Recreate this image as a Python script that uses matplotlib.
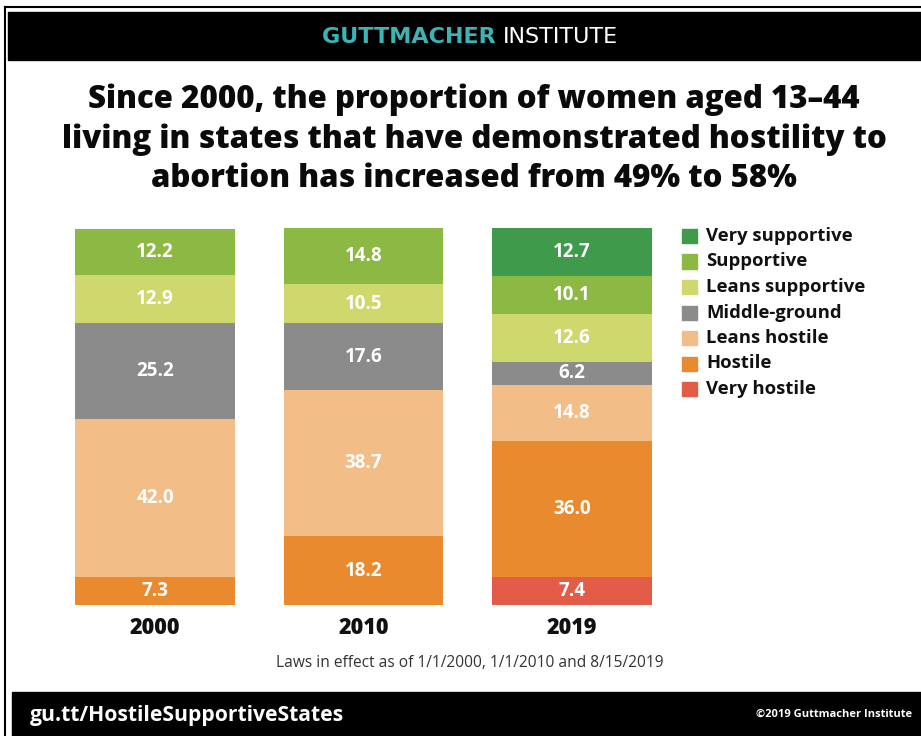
import numpy as np
import matplotlib.pyplot as plt
from matplotlib.patches import Rectangle

years = ["2000", "2010", "2019"]
categories = ["Very hostile", "Hostile", "Leans hostile", "Middle-ground",
              "Leans supportive", "Supportive", "Very supportive"]
# values by category (bottom to top), one entry per year
very_hostile = [0.0, 0.0, 7.4]
hostile = [7.3, 18.2, 36.0]
leans_hostile = [42.0, 38.7, 14.8]
middle_ground = [25.2, 17.6, 6.2]
leans_supportive = [12.9, 10.5, 12.6]
supportive = [12.2, 14.8, 10.1]
very_supportive = [0.0, 0.0, 12.7]

colors = {
    "Very supportive": "#3f9a4c",
    "Supportive": "#8cb944",
    "Leans supportive": "#cfd86d",
    "Middle-ground": "#8b8b8b",
    "Leans hostile": "#f3bd88",
    "Hostile": "#ea8a2f",
    "Very hostile": "#e25c48",
}

series = [very_hostile, hostile, leans_hostile, middle_ground,
          leans_supportive, supportive, very_supportive]

W, H = 921, 736
fig = plt.figure(figsize=(W / 100, H / 100), dpi=100)
fig.patch.set_facecolor("white")

FONT = "Open Sans"


def px(x, y):
    return x / W, 1 - y / H


# frame and bands
fig.add_artist(plt.Line2D([5 / W, 5 / W], [0, 1 - 7 / H], color="black", lw=1.5))
fig.add_artist(plt.Line2D([5 / W, 1], [1 - 7 / H, 1 - 7 / H], color="black", lw=1.5))
fig.add_artist(Rectangle(px(8, 60), (W - 8) / W, 48 / H, color="black"))
fig.add_artist(Rectangle(px(12, 736), (W - 12) / W, 44 / H, color="black"))

# header
t1 = fig.text(0, 0, "GUTTMACHER ", color="#3cb4b6", fontsize=16, fontweight="bold",
              family="DejaVu Sans", va="center")
fig.canvas.draw()
r = fig.canvas.get_renderer()
w1 = t1.get_window_extent(r).width
t2 = fig.text(0, 0, "INSTITUTE", color="white", fontsize=16, family="DejaVu Sans",
              va="center")
w2 = t2.get_window_extent(r).width
x0 = 470 - (w1 + w2) / 2
t1.set_position(px(x0, 37))
t2.set_position(px(x0 + w1, 37))

title = ("Since 2000, the proportion of women aged 13\u201344\n"
         "living in states that have demonstrated hostility to\n"
         "abortion has increased from 49% to 58%")
fig.text(*px(474, 139), title, ha="center", va="center", fontsize=22.5,
         fontweight="heavy", family=FONT, linespacing=1.3, color="#0a0a0a")

# bars
ax = fig.add_axes([75 / W, 1 - 605 / H, (652 - 75) / W, 378 / H])
x = np.arange(len(years))
width = 0.767
bottom = np.zeros(len(years))
for name, vals in zip(categories, series):
    vals = np.array(vals)
    ax.bar(x, vals, width, bottom=bottom, color=colors[name], label=name)
    for i, v in enumerate(vals):
        if v > 0:
            ax.text(x[i], bottom[i] + v / 2, f"{v:.1f}", ha="center", va="center",
                    color="white", fontsize=13.5, fontweight="bold", family=FONT)
    bottom += vals

ax.set_xlim(-width / 2, 2 + width / 2)
ax.set_ylim(0, 100)
ax.axis("off")
for i, yr in enumerate(years):
    ax.text(x[i], -6, yr, ha="center", va="center", fontsize=15.5,
            fontweight="heavy", family=FONT, color="#111111")

# legend
for k, name in enumerate(categories[::-1]):
    yy = 236 + k * 25.5
    fig.add_artist(Rectangle(px(682, yy + 7), 15 / W, 14 / H, color=colors[name]))
    fig.text(*px(706, yy), name, va="center", ha="left", fontsize=13.3,
             fontweight="bold", family=FONT, color="#111111")

fig.text(*px(470, 663), "Laws in effect as of 1/1/2000, 1/1/2010 and 8/15/2019",
         ha="center", va="center", fontsize=11.2, family=FONT, color="#333333")

fig.text(*px(30, 715), "gu.tt/HostileSupportiveStates", ha="left", va="center",
         fontsize=15.2, fontweight="bold", family=FONT, color="white")
fig.text(*px(912, 714), "\u00a92019 Guttmacher Institute", ha="right", va="center",
         fontsize=8, fontweight="bold", family=FONT, color="white")

fig.savefig("out.png", dpi=100)
